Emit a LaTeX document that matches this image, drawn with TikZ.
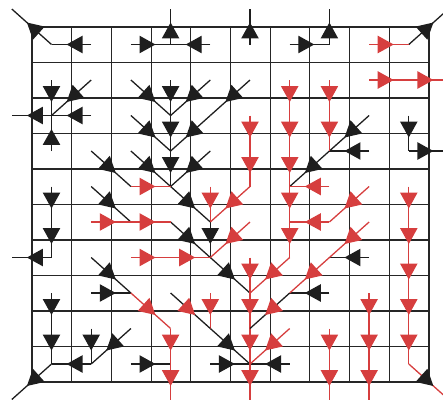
\documentclass[tikz,border=0pt]{standalone}
\usepackage{tikz}
\usetikzlibrary{arrows.meta,decorations.markings}
\usepackage{xcolor}
\definecolor{flowred}{RGB}{214,62,62}
\definecolor{flowblack}{RGB}{30,30,30}
\tikzset{
  cellgrid/.style={draw=black!85, line width=1pt},
  flowline/.style={line width=1.1pt, postaction={decorate},
    decoration={markings, mark=at position 0.62 with {\arrow[color=#1]{Triangle[length=4.8mm,width=5.2mm]}}}},
  blackflow/.style={draw=flowblack, flowline=flowblack},
  redflow/.style={draw=flowred, flowline=flowred},
}

\begin{document}
\begin{tikzpicture}[x=0.3mm, y=-0.3mm]
  \clip (0,0) rectangle (443,402);
  % cell centres, one ring outside the grid too
  \foreach \i in {-1,...,10}
    \foreach \j in {-1,...,10}
      \coordinate (c\i-\j) at ({51.5+39.7*\i},{44.5+35.5*\j});
  % grid
  \foreach \k in {0,...,10} {
    \draw[cellgrid] ({32+39.7*\k},27) -- ({32+39.7*\k},382);
    \draw[cellgrid] (32,{27+35.5*\k}) -- (429,{27+35.5*\k});
  }
  % black flows
  \foreach \a/\b/\c/\d in {0/0/-1/-1, 1/0/0/0, 2/0/3/0, 3/0/3/-1, 4/0/3/0, 5/0/5/-1, 6/0/7/0, 7/0/7/-1, 9/0/10/-1,
      0/1/0/2, 1/1/0/2, 2/1/3/2, 3/1/3/2, 4/1/3/2, 5/1/4/2,
      0/2/-1/2, 1/2/0/2, 2/2/3/3, 3/2/3/3, 4/2/3/3, 8/2/7/3, 9/2/9/3,
      0/3/0/2, 1/3/2/4, 2/3/3/4, 3/3/3/4, 4/3/3/4, 7/3/6/4, 8/3/7/3, 9/3/10/3,
      0/4/0/5, 1/4/2/5, 3/4/4/5,
      0/5/0/6, 3/5/4/6, 4/5/4/6,
      0/6/-1/6, 1/6/2/7, 4/6/5/7, 8/6/7/6,
      0/7/0/8, 1/7/2/7, 7/7/6/7,
      0/8/0/9, 1/8/1/9, 2/8/1/9, 4/8/5/9,
      0/9/-1/10, 1/9/0/9, 2/9/3/9, 4/9/5/9, 6/9/5/9}
    \draw[blackflow] (c\a-\b) -- (c\c-\d);
  % red flows
  \foreach \a/\b/\c/\d in {8/0/9/0,
      6/1/6/2, 7/1/7/2, 8/1/9/1, 9/1/10/1,
      5/2/5/3, 6/2/6/3, 7/2/7/3,
      5/3/5/4, 6/3/6/4,
      2/4/3/4, 4/4/4/5, 5/4/4/5, 6/4/6/5, 7/4/6/4, 8/4/7/5, 9/4/9/5,
      1/5/2/5, 2/5/3/5, 5/5/4/6, 6/5/6/6, 7/5/6/5, 8/5/7/6, 9/5/9/6,
      2/6/3/6, 3/6/4/6, 5/6/5/7, 6/6/5/7, 7/6/6/7, 9/6/9/7,
      2/7/3/8, 4/7/4/8, 5/7/5/8, 8/7/8/8, 9/7/9/8,
      3/8/3/9, 5/8/5/9, 6/8/5/9, 7/8/7/9, 8/8/8/9, 9/8/9/9,
      3/9/3/10, 5/9/5/10, 7/9/7/10, 8/9/8/10}
    \draw[redflow] (c\a-\b) -- (c\c-\d);
  % mixed
  \draw[draw=flowblack, flowline=flowred] (c3-7) -- (c4-8);
  \draw[draw=flowblack, flowline=flowred] (c6-7) -- (c5-8);
  \draw[draw=flowred, flowline=flowblack] (c9-9) -- (c10-10);
\end{tikzpicture}
\end{document}
